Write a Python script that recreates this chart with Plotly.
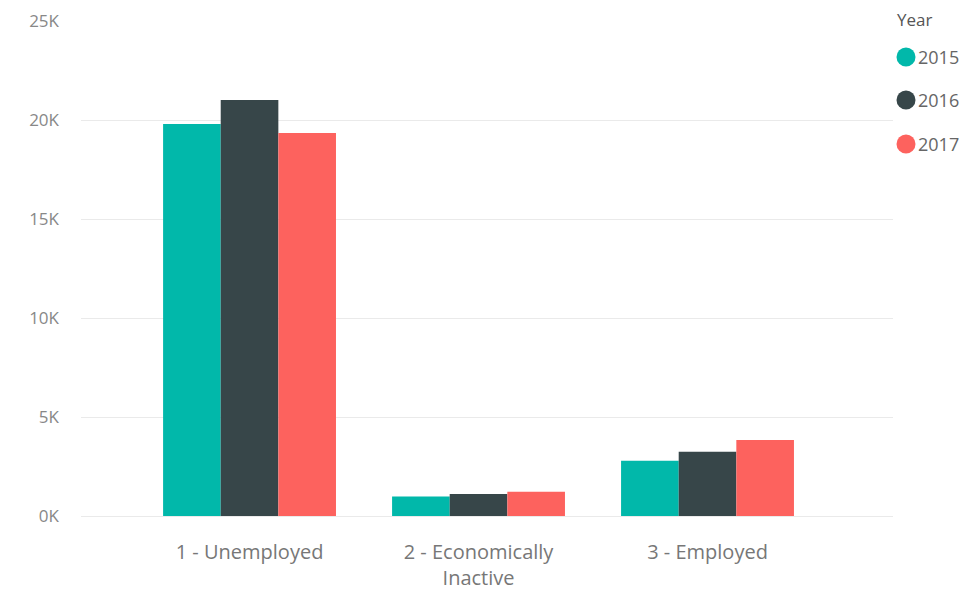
import plotly.graph_objects as go

# Counts by employment status and year
categories = ["1 - Unemployed", "2 - Economically<br>Inactive", "3 - Employed"]
years = ["2015", "2016", "2017"]
values_2015 = [19800, 980, 2790]
values_2016 = [21010, 1110, 3250]
values_2017 = [19340, 1230, 3840]
series = [values_2015, values_2016, values_2017]
colors = ["#01B8AA", "#374649", "#FD625E"]

y_ticks = [0, 5000, 10000, 15000, 20000, 25000]
y_tick_labels = ["0K", "5K", "10K", "15K", "20K", "25K"]

FONT = "Open Sans, Segoe UI, sans-serif"
W, H = 968, 593
ML, MR, MT, MB = 81, 75, 21, 77
PLOT_W, PLOT_H = W - ML - MR, H - MT - MB


def px_to_paper_x(px):
    return (px - ML) / PLOT_W


def px_to_paper_y(py):
    return (H - MB - py) / PLOT_H


fig = go.Figure()
idx = list(range(len(categories)))
for year, vals, col in zip(years, series, colors):
    fig.add_trace(go.Bar(
        x=idx, y=vals, name=year, marker=dict(color=col, line=dict(width=0)),
        showlegend=False,
    ))

# Legend: title, round markers and year labels at the right of the plot
annotations = [dict(
    text="Year", xref="paper", yref="paper",
    x=px_to_paper_x(895), y=px_to_paper_y(20), xanchor="left", yanchor="middle",
    showarrow=False, font=dict(size=17, color="#555555", family=FONT),
)]
shapes = []
legend_rows = [57, 100, 144]
for year, col, row in zip(years, colors, legend_rows):
    shapes.append(dict(
        type="circle", xref="paper", yref="paper",
        xsizemode="pixel", ysizemode="pixel",
        xanchor=px_to_paper_x(906), yanchor=px_to_paper_y(row),
        x0=-9.5, x1=9.5, y0=-9.5, y1=9.5,
        fillcolor=col, line=dict(width=0),
    ))
    annotations.append(dict(
        text=year, xref="paper", yref="paper",
        x=px_to_paper_x(916), y=px_to_paper_y(row), xanchor="left", yanchor="middle",
        showarrow=False, font=dict(size=18, color="#666666", family=FONT),
    ))

fig.update_layout(
    width=W, height=H,
    margin=dict(l=ML, r=MR, t=MT, b=MB, autoexpand=False),
    paper_bgcolor="white", plot_bgcolor="white",
    barmode="group", bargap=0.245, bargroupgap=0,
    font=dict(family=FONT, color="#777777"),
    showlegend=False,
    annotations=annotations,
    shapes=shapes,
    xaxis=dict(
        tickmode="array", tickvals=idx, ticktext=categories,
        range=[-0.736, 2.81], showgrid=False, zeroline=False,
        showline=False, ticks="", tickfont=dict(size=20, color="#777777"),
        ticklabelstandoff=22,
    ),
    yaxis=dict(
        range=[0, 25000], tickmode="array", tickvals=y_ticks, ticktext=y_tick_labels,
        showgrid=True, gridcolor="#EAEAEA", gridwidth=1,
        zeroline=True, zerolinecolor="#EAEAEA", zerolinewidth=1,
        showline=False, ticks="", tickfont=dict(size=17, color="#888888"),
        ticklabelstandoff=21,
    ),
)

fig.write_html("out.html")
